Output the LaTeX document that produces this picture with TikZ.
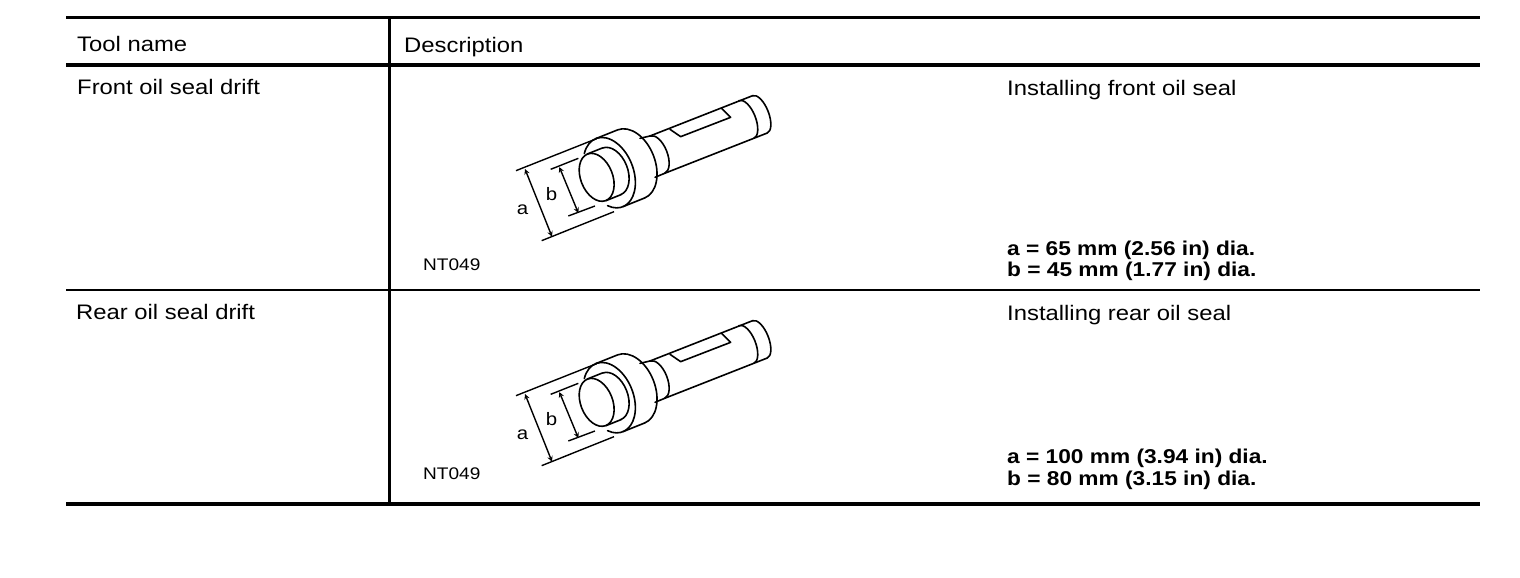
\documentclass[tikz,border=0pt]{standalone}
\usepackage{fontspec}
\setmainfont[FakeStretch=1.135]{Liberation Sans}
\usetikzlibrary{arrows}
\tikzstyle{txt}=[anchor=base west,inner sep=0pt,font=\fontsize{21}{24}\selectfont]
\tikzstyle{val}=[txt,font=\fontsize{20}{22}\selectfont\bfseries]
\tikzstyle{code}=[txt,font=\fontsize{16.8}{20}\selectfont]
\tikzstyle{letter}=[anchor=center,inner sep=0pt,font=\fontsize{18}{20}\selectfont]
\tikzstyle{thick rule}=[line width=3.8pt]
\tikzstyle{thin rule}=[line width=1.6pt]
\tikzstyle{outline}=[line width=1.6pt,line cap=round,line join=round]
\tikzstyle{dim}=[line width=1.4pt]
\newcommand{\drift}[3]{%
\begin{scope}[shift={(#2,#3)},x=0.3333pt,y=-0.3333pt]
% end face and pilot
\draw[outline,shift={(320,277)},rotate=21.5] (0,0) ellipse[x radius=48,y radius=75];
\draw[outline] (292,207) -- (337,189);
\draw[outline,shift={(365,259)},rotate=21.5] (-90:48 and 75) arc[start angle=-90,end angle=90,x radius=48,y radius=75];
\draw[outline] (393,329) -- (348,347);
% collar
\draw[outline,shift={(358,263)},rotate=21.5] (-133:72 and 110) arc[start angle=-133,end angle=125,x radius=72,y radius=110];
\draw[outline,shift={(423,237)},rotate=21.5] (-90:72 and 110) arc[start angle=-90,end angle=90,x radius=72,y radius=110];
\draw[outline] (317,161) -- (382,135);
\draw[outline] (464,339) -- (399,365);
% neck
\draw[outline] (450,160) -- (480,153);
\draw[outline,shift={(502,209)},rotate=21.5] (-90:30 and 60) arc[start angle=-90,end angle=90,x radius=30,y radius=60];
\draw[outline] (495,277) -- (524,265);
% shaft
\draw[outline] (480,153) -- (788,32);
\draw[outline] (524,265) -- (832,144);
\draw[outline] (540,133) -- (572,155) -- (722,97) -- (695,70);
\draw[outline,shift={(769,103.5)},rotate=21.5] (-90:28 and 61) arc[start angle=-90,end angle=90,x radius=28,y radius=61];
\draw[outline,shift={(810,88)},rotate=21.5] (-90:26 and 60) arc[start angle=-90,end angle=90,x radius=26,y radius=60];
% dimensions
\coordinate (#1a1) at (78,257);
\coordinate (#1a2) at (320,161);
\coordinate (#1a3) at (155,467);
\coordinate (#1a4) at (372,380);
\coordinate (#1a5) at (105,252);
\coordinate (#1a6) at (186,455);
\coordinate (#1b1) at (182,253);
\coordinate (#1b2) at (265,220);
\coordinate (#1b3) at (235,393);
\coordinate (#1b4) at (315,363);
\coordinate (#1b5) at (208,246);
\coordinate (#1b6) at (265,384);
\draw[dim] (#1a1) -- (#1a2);
\draw[dim] (#1a3) -- (#1a4);
\draw[dim] (#1b1) -- (#1b2);
\draw[dim] (#1b3) -- (#1b4);
\draw[dim,<->] (#1a5) -- (#1a6);
\draw[dim,<->] (#1b5) -- (#1b6);
\node[letter] (#1a) at (98,373) {a};
\node[letter] (#1b) at (185,327) {b};
\end{scope}}
\begin{document}
\begin{tikzpicture}[>=stealth,x=1pt,y=-1pt]
\useasboundingbox (0,0) rectangle (1520,578);
% rules
\coordinate (t1) at (66,17.5);
\coordinate (t2) at (1480,17.5);
\coordinate (h1) at (66,65);
\coordinate (h2) at (1480,65);
\coordinate (r1) at (66,290);
\coordinate (r2) at (1480,290);
\coordinate (b1) at (66,504);
\coordinate (b2) at (1480,504);
\coordinate (v1) at (389.5,18);
\coordinate (v2) at (389.5,504);
\draw[thick rule] (t1) -- (t2);
\draw[thick rule] (h1) -- (h2);
\draw[thin rule] (r1) -- (r2);
\draw[thick rule] (b1) -- (b2);
\draw[line width=2.6pt] (v1) -- (v2);
% header
\node[txt] (toolname) at (77,51.5) {Tool name};
\node[txt] (descr) at (404,52.5) {Description};
% first row
\node[txt] (name1) at (77,94) {Front oil seal drift};
\node[txt] (use1) at (1007,95.5) {Installing front oil seal};
\node[val] (a1) at (1007,255) {a = 65 mm (2.56 in) dia.};
\node[val] (b1v) at (1007,276) {b = 45 mm (1.77 in) dia.};
\node[code] (nt1) at (423,270) {NT049};
\drift{up}{490}{85}
% second row
\node[txt] (name2) at (76,319) {Rear oil seal drift};
\node[txt] (use2) at (1007,320) {Installing rear oil seal};
\node[val] (a2) at (1007,463.5) {a = 100 mm (3.94 in) dia.};
\node[val] (b2v) at (1007,485.5) {b = 80 mm (3.15 in) dia.};
\node[code] (nt2) at (423,479) {NT049};
\drift{lo}{490}{310}
\end{tikzpicture}
\end{document}
